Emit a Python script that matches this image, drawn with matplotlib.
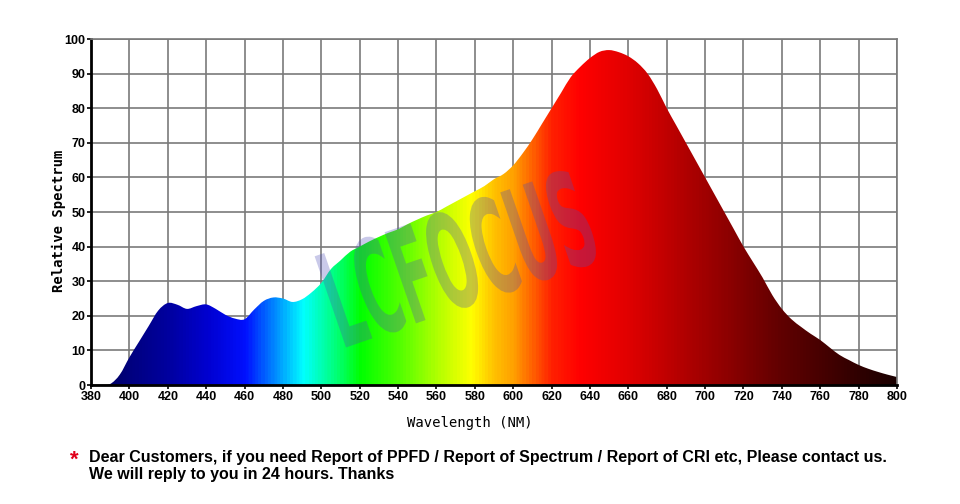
"""spectrum chart"""

import numpy as np
import matplotlib
matplotlib.use("Agg")
from matplotlib import pyplot as plt
from matplotlib.colors import LinearSegmentedColormap
from matplotlib.path import Path
from matplotlib.patches import PathPatch
from matplotlib.textpath import TextPath
from matplotlib.font_manager import FontProperties
from matplotlib.transforms import Affine2D

# datos
wavelength = [380, 385, 390, 395, 400, 405, 410, 415, 420, 425, 430, 435, 440, 445,
              450, 455, 460, 465, 470, 475, 480, 485, 490, 495, 500, 505, 510, 515,
              520, 525, 530, 535, 540, 545, 550, 555, 560, 565, 570, 575, 580, 585,
              590, 595, 600, 605, 610, 615, 620, 625, 630, 635, 640, 645, 650, 655,
              660, 665, 670, 675, 680, 685, 690, 695, 700, 705, 710, 715, 720, 725,
              730, 735, 740, 745, 750, 755, 760, 765, 770, 775, 780, 785, 790, 795, 800]
relative = [0, 0, 0.3, 3, 8, 12.5, 17, 21.5, 23.7, 23.2, 22, 22.8, 23.3, 22,
            20.3, 19.2, 19, 21.8, 24.3, 25.3, 25, 24, 24.8, 26.8, 29.5, 33.5, 36, 38.5,
            40, 41.5, 42.8, 44, 45, 46.5, 47.8, 49, 50, 51.5, 53, 54.5, 56, 57.5,
            59.5, 61, 63.5, 67, 71, 75.5, 80, 84.5, 89, 92, 94.5, 96.3, 96.8, 96.2,
            95, 93, 90, 85.5, 80, 75, 70, 65, 60, 55, 50, 45, 40, 35.5,
            31, 26, 22, 19, 16.8, 14.8, 13, 10.8, 8.7, 7.2, 5.8, 4.7, 3.8, 3, 2.3]

x_ticks = list(range(380, 801, 20))
y_ticks = list(range(0, 101, 10))

# colores del espectro
spectrum_stops = [(380, "#000050"), (400, "#000080"), (420, "#0000a0"), (440, "#0000d0"),
                  (460, "#0010ff"), (470, "#0060ff"), (480, "#00b0ff"), (490, "#00ffff"),
                  (500, "#00ffb0"), (510, "#00ff60"), (520, "#00ff00"), (540, "#50ff00"),
                  (560, "#b0ff00"), (578, "#ffff00"), (590, "#ffc000"), (600, "#ffa000"),
                  (610, "#ff6000"), (620, "#ff2000"), (635, "#ff0000"), (660, "#e00000"),
                  (700, "#a00000"), (740, "#600000"), (780, "#300000"), (800, "#1a0000")]

cmap = LinearSegmentedColormap.from_list(
    "spec", [((w - 380) / 420, c) for w, c in spectrum_stops])


# curva suave (bezier) bajo los puntos
def curva_suave(xs, ys):
    pts = np.column_stack([xs, ys]).astype(float)
    n = len(pts)
    verts = [(xs[0], 0), tuple(pts[0])]
    codes = [Path.MOVETO, Path.LINETO]
    for i in range(n - 1):
        p0 = pts[i - 1] if i > 0 else pts[i]
        p1 = pts[i]
        p2 = pts[i + 1]
        p3 = pts[i + 2] if i + 2 < n else pts[i + 1]
        c1 = p1 + (p2 - p0) / 6
        c2 = p2 - (p3 - p1) / 6
        verts += [tuple(c1), tuple(c2), tuple(p2)]
        codes += [Path.CURVE4] * 3
    verts += [(xs[-1], 0), (xs[0], 0)]
    codes += [Path.LINETO, Path.CLOSEPOLY]
    return Path(verts, codes)


fig = plt.figure(figsize=(9.6, 5.04), dpi=100)
ax = fig.add_axes([0.0948, 0.2361, 0.8396, 0.6865])

# grid
for t in x_ticks:
    ax.axvline(t, color="#7a7a7a", lw=1.2, zorder=1)
for t in y_ticks:
    ax.axhline(t, color="#7a7a7a", lw=1.2, zorder=1)

area = PathPatch(curva_suave(wavelength, relative), facecolor="none", lw=0)
ax.add_patch(area)
grad = np.linspace(0, 1, 840).reshape(1, -1)
im = ax.imshow(grad, cmap=cmap, extent=[380, 800, 0, 100], aspect="auto",
               origin="lower", zorder=3)
im.set_clip_path(area)

# marca de agua, letras estrechas
tp = TextPath((0, 0), "LCFOCUS", size=100,
              prop=FontProperties(family="DejaVu Sans", weight="bold"))
ext = tp.get_extents()
wm_tr = (Affine2D()
         .translate(-(ext.x0 + ext.x1) / 2, -(ext.y0 + ext.y1) / 2)
         .scale(270 / ext.width, 100 / ext.height)
         .rotate_deg(19)
         .translate(458, 504 - 258))
wm = PathPatch(tp, facecolor=(0.3, 0.3, 0.72), edgecolor="none", alpha=0.3,
               transform=wm_tr, zorder=4, clip_on=False)
ax.add_artist(wm)

ax.set_xlim(380, 800)
ax.set_ylim(0, 100)
ax.set_xticks(x_ticks)
ax.set_yticks(y_ticks)
ax.tick_params(labelsize=9, length=3, width=1.2, pad=1)
for lab in ax.get_xticklabels() + ax.get_yticklabels():
    lab.set_fontweight("bold")
    lab.set_family("Liberation Sans")

for s in ["top", "right"]:
    ax.spines[s].set_color("#7a7a7a")
    ax.spines[s].set_linewidth(1.2)
for s in ["left", "bottom"]:
    ax.spines[s].set_color("black")
    ax.spines[s].set_linewidth(2)
for s in ax.spines.values():
    s.set_zorder(5)

ax.set_ylabel("Relative Spectrum", family="DejaVu Sans Mono", fontweight="bold",
              fontsize=10)
ax.yaxis.set_label_coords(-0.031, 0.474)
ax.set_xlabel("Wavelength (NM)", family="DejaVu Sans Mono", fontsize=10)
ax.xaxis.set_label_coords(0.47, -0.09)

fig.text(0.073, 0.086, "*", color="#e0001a", fontsize=16, fontweight="bold",
         family="Liberation Sans", ha="left", va="center")
fig.text(0.0925, 0.075,
         "Dear Customers, if you need Report of PPFD / Report of Spectrum / Report of CRI etc, Please contact us.\n"
         "We will reply to you in 24 hours. Thanks",
         fontsize=11.5, fontweight="bold", family="Liberation Sans",
         ha="left", va="center", linespacing=1.15)

fig.savefig("out.png", dpi=100)
